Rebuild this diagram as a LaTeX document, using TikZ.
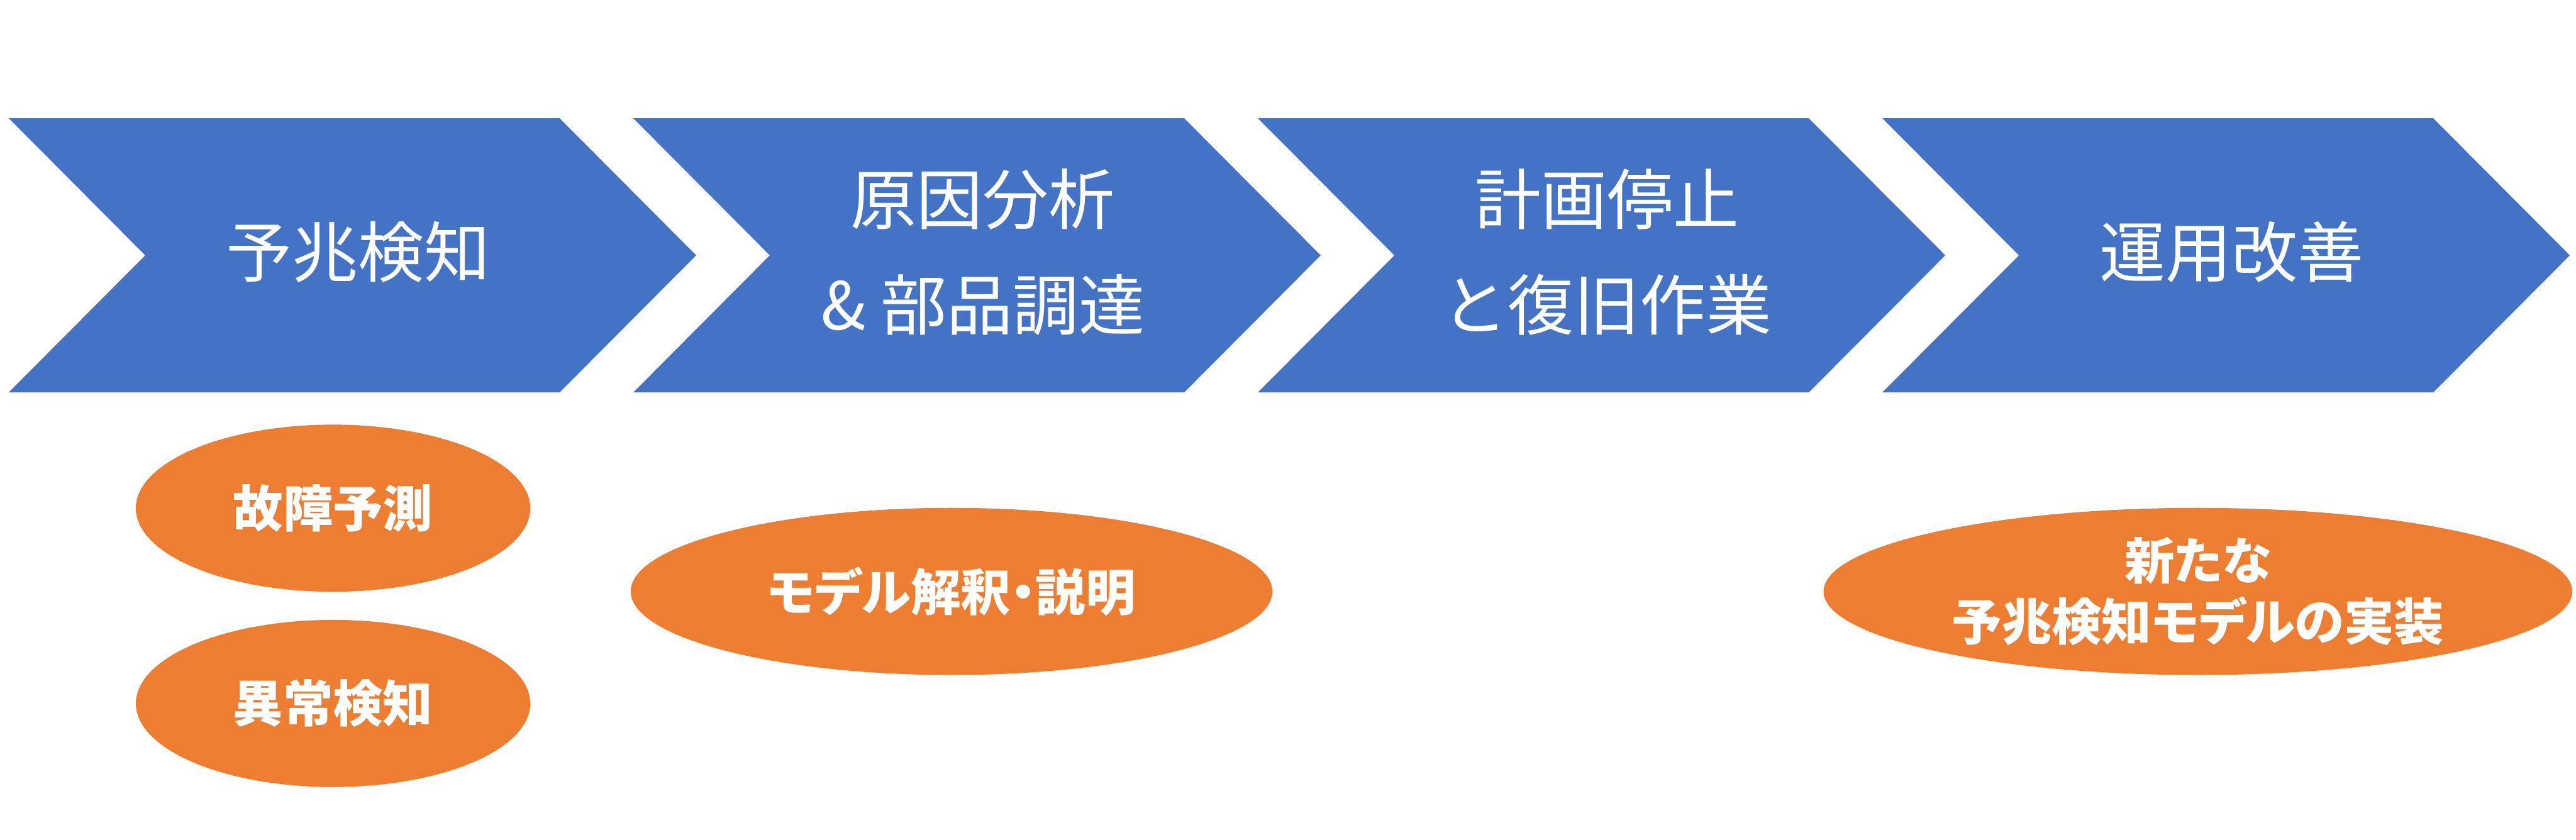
\documentclass[tikz,border=0pt]{standalone}
\usepackage{fontspec}
\newfontfamily\jpfont{Noto Sans CJK JP}
\newfontfamily\jpboldfont[RawFeature=+palt]{Noto Sans CJK JP}
\usetikzlibrary{shapes.geometric}
\definecolor{flowblue}{HTML}{4472C4}
\definecolor{taskorange}{HTML}{ED7D31}

\begin{document}
\begin{tikzpicture}[
  chevron/.pic={\fill[flowblue] (0,0) -- (8.80,0) -- (10.98,-2.19) -- (8.80,-4.38) -- (0,-4.38) -- (2.18,-2.19) -- cycle;},
  phase/.style={text=white,align=center,inner sep=0pt,font=\jpfont\fontsize{30}{48}\selectfont},
  task/.style={ellipse,fill=taskorange,inner sep=0pt,minimum height=2.67cm,text=white,align=center,font=\jpboldfont\bfseries\fontsize{22.7}{27.8}\selectfont}
]
  \useasboundingbox (0,0) rectangle (41.15,13.42);

  % process flow
  \foreach \x in {0.14,10.117,20.094,30.07}
    \pic at (\x,11.53) {chevron};
  \node[phase] (detect) at (5.72,9.39) {予兆検知};
  \node[phase] (analyse) at (15.70,9.39) {原因分析\\\& 部品調達};
  \node[phase] (recover) at (25.67,9.39) {計画停止\\と復旧作業};
  \node[phase] (improve) at (35.65,9.39) {運用改善};

  % tasks under each phase
  \node[task,minimum width=6.30cm] (predict) at (5.32,5.30) {故障予測};
  \node[task,minimum width=6.30cm] (anomaly) at (5.32,2.18) {異常検知};
  \node[task,minimum width=10.25cm] (explain) at (15.20,3.97) {モデル解釈・説明};
  \node[task,minimum width=11.96cm] (deploy) at (35.11,3.97) {新たな\\予兆検知モデルの実装};
\end{tikzpicture}
\end{document}
